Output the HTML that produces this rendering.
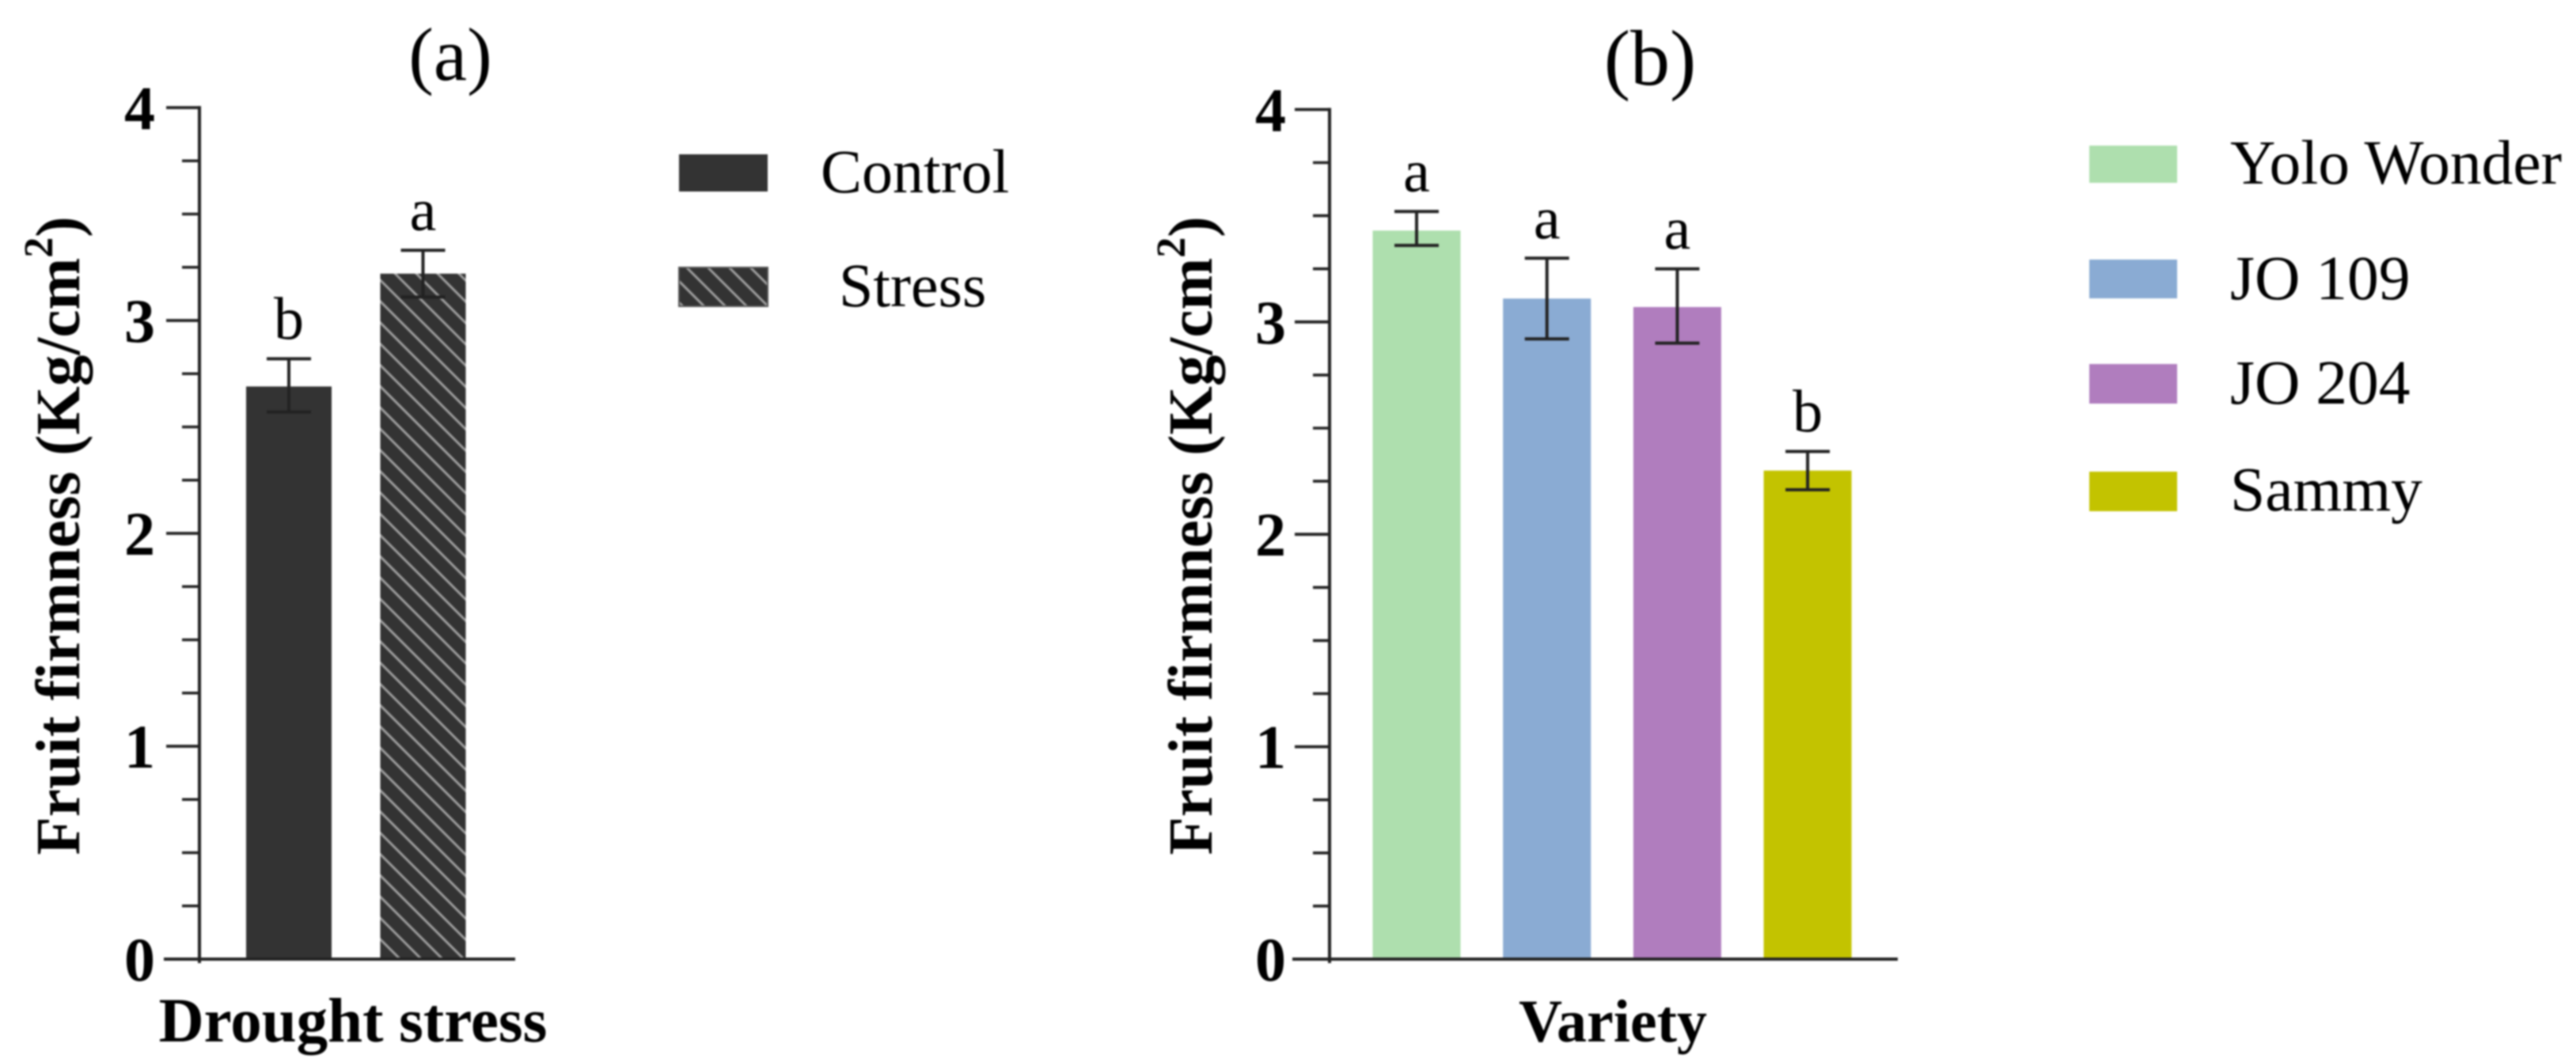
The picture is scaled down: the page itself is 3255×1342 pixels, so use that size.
<!DOCTYPE html>
<html lang="en">
<head>
<meta charset="utf-8">
<title>Fruit firmness by drought stress and variety</title>
<style>
html,body{margin:0;padding:0;background:#fff;width:3255px;height:1342px;overflow:hidden}
svg{display:block;filter:blur(1.1px)}
text{font-family:"Liberation Serif","Times New Roman",serif;fill:#000}
.bold{font-weight:700}
</style>
</head>
<body>
<svg id="figure" xmlns="http://www.w3.org/2000/svg" width="3255" height="1342" viewBox="0 0 3255 1342">
  <defs>
    <pattern id="hatch" width="19" height="19" patternUnits="userSpaceOnUse" patternTransform="translate(480 340) rotate(45)">
      <rect width="19" height="19" fill="#333333"></rect>
      <rect y="8" width="19" height="3" fill="#9c9c9c"></rect>
    </pattern>
  </defs>
  <rect width="3255" height="1342" fill="#ffffff"></rect>

  <text x="569" y="101" font-size="95" text-anchor="middle">(a)</text>
  <text x="2085" y="107" font-size="100" text-anchor="middle">(b)</text>

  <text class="bold" font-size="79" text-anchor="middle" transform="translate(100 677) rotate(-90)">Fruit firmness (Kg/cm<tspan font-size="52" dy="-34">2</tspan><tspan dy="34">)</tspan></text>
  <text class="bold" font-size="79" text-anchor="middle" transform="translate(1531 677) rotate(-90)">Fruit firmness (Kg/cm<tspan font-size="52" dy="-34">2</tspan><tspan dy="34">)</tspan></text>

  <text class="bold" font-size="79" x="446" y="1316" text-anchor="middle">Drought stress</text>
  <text class="bold" font-size="76" x="2038" y="1316" text-anchor="middle">Variety</text>

  <g id="panel-a"></g>
  <g id="panel-b"></g>

  <g font-size="78">
    <g>
      <rect x="858" y="195" width="112" height="47" fill="#333333"></rect>
      <text x="1037" y="243">Control</text>
    </g>
    <g>
      <rect x="858" y="338" width="112" height="49" fill="url(#hatch)" stroke="#555" stroke-width="2"></rect>
      <text x="1060" y="387">Stress</text>
    </g>
  </g>

  <g font-size="79.5">
    <g>
      <rect x="2640" y="184" width="111" height="47" fill="#aedfae"></rect>
      <text x="2818" y="232">Yolo Wonder</text>
    </g>
    <g>
      <rect x="2640" y="328" width="111" height="49" fill="#8aabd3"></rect>
      <text x="2818" y="378">JO 109</text>
    </g>
    <g>
      <rect x="2640" y="460" width="111" height="50" fill="#b07dbe"></rect>
      <text x="2818" y="510">JO 204</text>
    </g>
    <g>
      <rect x="2640" y="596" width="111" height="50" fill="#c3c300"></rect>
      <text x="2818" y="645">Sammy</text>
    </g>
  </g>
</svg>

<script>
// Chart data
var tickLabels = [0, 1, 2, 3, 4];
var minorStep = 0.25;

var droughtCategories = ['Control', 'Stress'];
var droughtMeans = [2.69, 3.22];
var droughtErrHigh = [2.82, 3.33];
var droughtErrLow = [2.57, 3.11];
var droughtLetters = ['b', 'a'];

var varietyCategories = ['Yolo Wonder', 'JO 109', 'JO 204', 'Sammy'];
var varietyMeans = [3.43, 3.11, 3.07, 2.3];
var varietyErrHigh = [3.52, 3.3, 3.25, 2.39];
var varietyErrLow = [3.36, 2.92, 2.9, 2.21];
var varietyLetters = ['a', 'a', 'a', 'b'];

var droughtFills = ['#333333', 'url(#hatch)'];
var varietyFills = ['#aedfae', '#8aabd3', '#b07dbe', '#c3c300'];

var NS = 'http://www.w3.org/2000/svg';
var INK = '#222222';

function make(parent, tag, attrs, text) {
  var el = document.createElementNS(NS, tag);
  for (var k in attrs) { el.setAttribute(k, attrs[k]); }
  if (text !== undefined) { el.textContent = text; }
  parent.appendChild(el);
  return el;
}

function drawPanel(root, layout, categories, means, errHigh, errLow, letters, fills) {
  function yScale(v) { return layout.y0 - v * layout.unit; }
  function xScale(i) { return layout.x0 + i * layout.step; }
  var top = tickLabels[tickLabels.length - 1];

  // y axis line
  var yAxis = make(root, 'line', { x1: layout.axisX, x2: layout.axisX, y1: yScale(top) - 2, y2: layout.y0 + 5, stroke: INK, 'stroke-width': 4 });
  
  

  // minor ticks
  for (var m = 0; m <= top / minorStep; m++) {
    var mv = m * minorStep;
    if (Number.isInteger(mv)) { continue; }
    var minor = make(root, 'line', { x1: layout.minorX, x2: layout.axisX, y1: yScale(mv), y2: yScale(mv), stroke: INK, 'stroke-width': 3.6 });
    
    
  }

  // major ticks and labels
  tickLabels.forEach(function (t) {
    var major = make(root, 'line', { x1: layout.majorX, x2: layout.axisX, y1: yScale(t), y2: yScale(t), stroke: INK, 'stroke-width': 3.8 });
    
    
    var label = make(root, 'text', { x: layout.labelX, y: yScale(t) + 27, 'font-size': 78, 'font-weight': 700, 'text-anchor': 'end' }, String(t));
    
    
  });

  // bars, error bars and significance letters
  categories.forEach(function (name, i) {
    var slug = name.toLowerCase().replace(/\s+/g, '-');
    var cx = xScale(i);
    var bar = make(root, 'rect', { x: cx - layout.barW / 2, y: yScale(means[i]), width: layout.barW, height: layout.y0 - yScale(means[i]), fill: fills[i] });
    
    

    var stem = make(root, 'line', { x1: cx, x2: cx, y1: yScale(errHigh[i]), y2: yScale(errLow[i]), stroke: INK, 'stroke-width': 4 });
    
    

    var capHigh = make(root, 'line', { x1: cx - 28, x2: cx + 28, y1: yScale(errHigh[i]), y2: yScale(errHigh[i]), stroke: INK, 'stroke-width': 4 });
    
    

    var capLow = make(root, 'line', { x1: cx - 28, x2: cx + 28, y1: yScale(errLow[i]), y2: yScale(errLow[i]), stroke: INK, 'stroke-width': 4 });
    
    

    var letter = make(root, 'text', { x: cx, y: yScale(errHigh[i]) - 25, 'font-size': 76, 'text-anchor': 'middle' }, letters[i]);
    
    
  });

  // x axis line, drawn last so it sits over the bar bases
  var xAxis = make(root, 'line', { x1: layout.majorX - 3, x2: layout.axisEnd, y1: layout.y0, y2: layout.y0, stroke: INK, 'stroke-width': 4 });
  
  
}

drawPanel(document.getElementById('panel-a'),
  { y0: 1212, unit: 269, axisX: 252, axisEnd: 651, majorX: 210, minorX: 230, labelX: 196, x0: 365, step: 169.5, barW: 108 },
  droughtCategories, droughtMeans, droughtErrHigh, droughtErrLow, droughtLetters, droughtFills);

drawPanel(document.getElementById('panel-b'),
  { y0: 1212, unit: 268.4, axisX: 1680, axisEnd: 2398, majorX: 1636, minorX: 1659, labelX: 1625, x0: 1790, step: 164.7, barW: 111 },
  varietyCategories, varietyMeans, varietyErrHigh, varietyErrLow, varietyLetters, varietyFills);
</script>
</body>
</html>
